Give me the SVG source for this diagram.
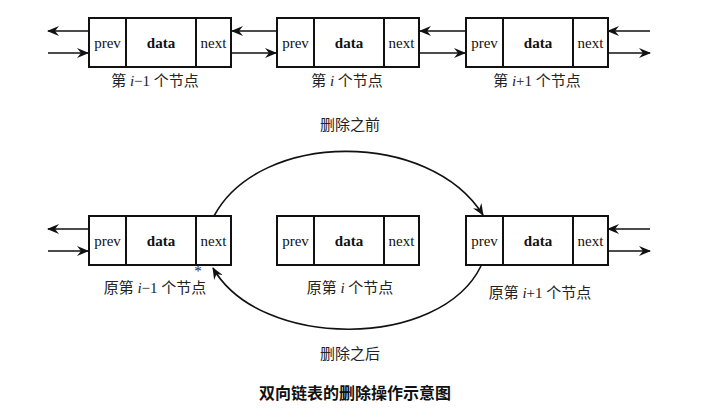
<svg xmlns="http://www.w3.org/2000/svg" width="710" height="420" viewBox="0 0 710 420">
<style>
.b{fill:#fff;stroke:#111;stroke-width:2}
.t{font-family:"Liberation Serif",serif;font-size:15px;fill:#111;text-anchor:middle}
.d{font-weight:bold}
.c{font-family:"Liberation Serif","Noto Sans CJK SC",serif;font-size:15px;fill:#222;text-anchor:middle}
.l{stroke:#111;stroke-width:1.6;fill:none;marker-end:url(#a)}
</style>
<defs>
<marker id="a" viewBox="0 0 12 10" refX="11" refY="5" markerWidth="12" markerHeight="10" markerUnits="userSpaceOnUse" orient="auto"><path d="M0,0 L12,5 L0,10 L4,5 Z" fill="#111"/></marker>
<g id="n"><rect class="b" x="0" y="0" width="142" height="49"/><line class="b" x1="37" y1="0" x2="37" y2="49"/><line class="b" x1="107" y1="0" x2="107" y2="49"/><text class="t" x="18.5" y="30">prev</text><text class="t d" x="72" y="30">data</text><text class="t" x="124.5" y="30">next</text></g>
</defs>
<g id="node1"><use href="#n" x="89" y="18"/></g>
<g id="node2"><use href="#n" x="277" y="18"/></g>
<g id="node3"><use href="#n" x="466" y="18"/></g>
<g id="node4"><use href="#n" x="89" y="216"/></g>
<g id="node5"><use href="#n" x="277" y="216"/></g>
<g id="node6"><use href="#n" x="466" y="216"/></g>
<g id="connectors">
<line class="l" x1="89" y1="31" x2="48" y2="31"/><line class="l" x1="48" y1="53" x2="88" y2="53"/>
<line class="l" x1="277" y1="31" x2="232" y2="31"/><line class="l" x1="231" y1="53" x2="276" y2="53"/>
<line class="l" x1="466" y1="31" x2="420" y2="31"/><line class="l" x1="419" y1="53" x2="465" y2="53"/>
<line class="l" x1="650" y1="31" x2="608" y2="31"/><line class="l" x1="607" y1="53" x2="650" y2="53"/>
<line class="l" x1="89" y1="229" x2="48" y2="229"/><line class="l" x1="48" y1="251" x2="88" y2="251"/>
<line class="l" x1="650" y1="229" x2="608" y2="229"/><line class="l" x1="607" y1="251" x2="650" y2="251"/>
<path class="l" d="M214,216 C260,130 430,130 483,215"/>
<path class="l" d="M481,266 C440,350 260,350 213,268"/>
</g>
<text class="c" x="155" y="86">第 <tspan font-style="italic">i</tspan>−1 个节点</text>
<text class="c" x="347" y="86">第 <tspan font-style="italic">i</tspan> 个节点</text>
<text class="c" x="537" y="86">第 <tspan font-style="italic">i</tspan>+1 个节点</text>
<text class="c" x="350" y="130">删除之前</text>
<text class="c" x="155" y="293">原第 <tspan font-style="italic">i</tspan>−1 个节点</text>
<text class="c" x="350" y="293">原第 <tspan font-style="italic">i</tspan> 个节点</text>
<text class="c" x="540" y="298">原第 <tspan font-style="italic">i</tspan>+1 个节点</text>
<text class="c" x="198" y="276" font-size="9">*</text>
<text class="c" x="350" y="359">删除之后</text>
<text x="355" y="399" text-anchor="middle" font-family="'Noto Sans CJK SC',sans-serif" font-weight="bold" font-size="16" fill="#111">双向链表的删除操作示意图</text>
</svg>
